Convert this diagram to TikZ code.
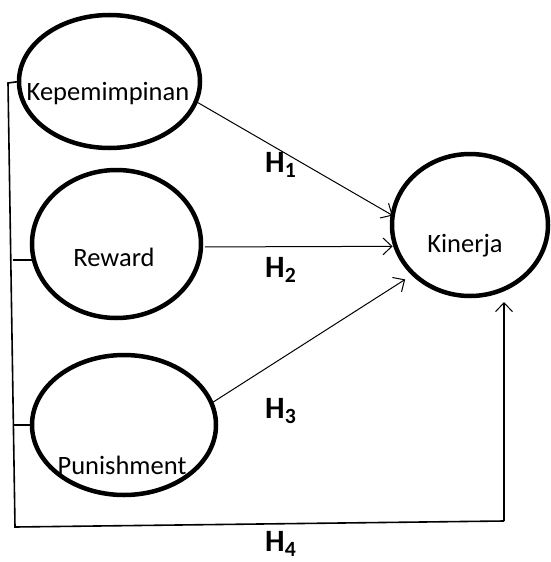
\documentclass[tikz,border=0pt]{standalone}
\usepackage{fontspec}
\setmainfont{Carlito}
\usetikzlibrary{shapes.geometric,arrows.meta}
\begin{document}
\begin{tikzpicture}[x=1pt,y=-1pt,
  var/.style={draw,ellipse,line width=4.5pt,inner sep=0pt,outer sep=0pt},
  lbl/.style={font=\fontsize{26.5}{30}\selectfont,inner sep=0pt},
  hyp/.style={font=\fontsize{31}{34}\selectfont\bfseries,inner sep=0pt,anchor=base west},
  arr/.style={line width=1pt,-{Straight Barb[length=9pt,width=17pt,line width=1pt]}},
  frame/.style={line width=1.6pt}]
\useasboundingbox (0,0) rectangle (551,562);
\node[var,minimum width=181pt,minimum height=133pt] (kep) at (109.5,81.5) {};
\node[var,minimum width=169pt,minimum height=148pt] (rew) at (116.5,244) {};
\node[var,minimum width=184pt,minimum height=140pt] (pun) at (124,425) {};
\node[var,minimum width=156pt,minimum height=142pt] (kin) at (470,225) {};
\node[lbl] (tkep) at (108,94) {Kepemimpinan};
\node[lbl] (trew) at (114,257) {Reward};
\node[lbl] (tpun) at (122,465) {Punishment};
\node[lbl] (tkin) at (465,246) {Kinerja};
\node[hyp] (h1) at (265,172) {H\textsubscript{1}};
\node[hyp] (h2) at (265,277) {H\textsubscript{2}};
\node[hyp] (h3) at (265,418) {H\textsubscript{3}};
\node[hyp] (h4) at (265,551) {H\textsubscript{4}};
% hypothesis arrows
\draw[arr] (kep.-13) -- (kin.173);
\draw[arr] ([xshift=4pt]rew.-2) -- ([xshift=-3pt]kin.196);
\draw[arr,shorten >=10pt] (pun.14) -- (kin.221);
% H4 frame
\coordinate (c1) at (8,83);
\coordinate (c2) at (15,527);
\coordinate (c3) at (504,521);
\coordinate (t2) at (12.5,260);
\coordinate (t3) at (14.3,425);
\draw[frame] (kep.west) -- (c1) -- (c2) -- (c3);
\draw[frame] (t2) -- (rew.west |- t2);
\draw[frame] (t3) -- (pun.west);
\draw[arr,line width=1.2pt] (c3) -- ([yshift=-6pt]c3 |- kin.south);
\end{tikzpicture}
\end{document}
